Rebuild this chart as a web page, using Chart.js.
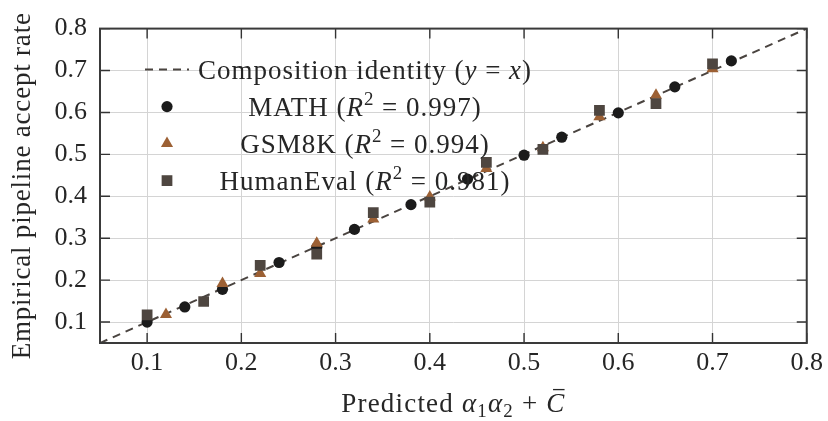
<!DOCTYPE html>
<html>
<head>
<meta charset="utf-8">
<title>Composition identity</title>
<script src="https://cdn.jsdelivr.net/npm/chart.js@4.4.1/dist/chart.umd.min.js"></script>
<style>
  html, body { margin: 0; padding: 0; background: #fff; }
  #wrap { width: 828px; height: 421px; }
</style>
</head>
<body>
<div id="wrap"><canvas id="chart" width="828" height="421"></canvas></div>
<script>
// values
const xTicks = [0.1, 0.2, 0.3, 0.4, 0.5, 0.6, 0.7, 0.8];
const yTicks = [0.1, 0.2, 0.3, 0.4, 0.5, 0.6, 0.7, 0.8];
const identityX = [0.05, 0.8];

const mathX = [0.10, 0.14, 0.18, 0.24, 0.28, 0.32, 0.38, 0.44, 0.50, 0.54, 0.60, 0.66, 0.72];
const mathY = [0.100, 0.136, 0.178, 0.242, 0.278, 0.321, 0.380, 0.441, 0.498, 0.541, 0.599, 0.661, 0.723];

const gsmX = [0.12, 0.18, 0.22, 0.28, 0.34, 0.40, 0.46, 0.52, 0.58, 0.64, 0.70];
const gsmY = [0.118, 0.192, 0.216, 0.288, 0.346, 0.398, 0.466, 0.516, 0.590, 0.641, 0.704];

const heX = [0.10, 0.16, 0.22, 0.28, 0.34, 0.40, 0.46, 0.52, 0.58, 0.64, 0.70];
const heY = [0.117, 0.149, 0.235, 0.262, 0.361, 0.386, 0.481, 0.512, 0.605, 0.621, 0.716];

const seriesNames = ['MATH', 'GSM8K', 'HumanEval'];
const seriesR2 = ['0.997', '0.994', '0.981'];

const SERIF = '"Liberation Serif", "DejaVu Serif", serif';
const INK = '#262626';
const COLORS = { line: '#4a4440', math: '#1b1b1b', gsm: '#9c6034', he: '#4e4640' };
const MARKERS = [
  { pointStyle: 'circle', radius: 5.6, color: COLORS.math },
  { pointStyle: 'triangle', radius: 7, color: COLORS.gsm },
  { pointStyle: 'rect', radius: 7.6, color: COLORS.he }
];

const pts = (xs, ys) => xs.map((v, i) => ({ x: v, y: ys[i] }));

// small rich-text helper: italics, sub- and superscripts
function setFont(ctx, seg, size) {
  const px = (seg.sup || seg.sub) ? size * 0.7 : size;
  ctx.font = (seg.it ? 'italic ' : '') + px + 'px ' + SERIF;
}
function drawRich(ctx, segs, x, y, size, spacing) {
  ctx.save();
  ctx.letterSpacing = spacing + 'px';
  ctx.textBaseline = 'alphabetic';
  ctx.textAlign = 'left';
  ctx.fillStyle = INK;
  let w = 0;
  segs.forEach(s => { setFont(ctx, s, size); w += ctx.measureText(s.t).width; });
  let cx = x - w / 2;
  segs.forEach(s => {
    setFont(ctx, s, size);
    const dy = s.sup ? -size * 0.38 : (s.sub ? size * 0.2 : 0);
    const sw = ctx.measureText(s.t).width;
    ctx.fillText(s.t, cx, y + dy);
    if (s.bar) {
      ctx.strokeStyle = INK;
      ctx.lineWidth = 1.3;
      ctx.beginPath();
      ctx.moveTo(cx + sw * 0.35, y - size * 0.83);
      ctx.lineTo(cx + sw * 0.95, y - size * 0.83);
      ctx.stroke();
    }
    cx += sw;
  });
  ctx.restore();
}

const framePlugin = {
  id: 'frame',
  afterDatasetsDraw(chart) {
    const { ctx, chartArea: a, scales: { x, y } } = chart;
    ctx.save();
    ctx.strokeStyle = '#333';
    ctx.lineWidth = 1.4;
    ctx.beginPath();
    xTicks.forEach(v => {
      const px = x.getPixelForValue(v);
      ctx.moveTo(px, a.bottom); ctx.lineTo(px, a.bottom - 10);
      ctx.moveTo(px, a.top); ctx.lineTo(px, a.top + 10);
    });
    yTicks.forEach(v => {
      const py = y.getPixelForValue(v);
      ctx.moveTo(a.left, py); ctx.lineTo(a.left + 10, py);
      ctx.moveTo(a.right, py); ctx.lineTo(a.right - 10, py);
    });
    ctx.stroke();
    ctx.strokeStyle = '#3a3a3a';
    ctx.lineWidth = 2;
    ctx.strokeRect(a.left, a.top, a.width, a.height);
    ctx.restore();
  }
};

const textPlugin = {
  id: 'texts',
  afterDraw(chart) {
    const { ctx, chartArea: a } = chart;

    // legend (no frame)
    const tx = a.left + 265, mx = a.left + 67;
    const row = i => a.top + 41 + i * 37;
    ctx.save();
    ctx.strokeStyle = COLORS.line;
    ctx.lineWidth = 2;
    ctx.setLineDash([8, 6]);
    ctx.beginPath();
    ctx.moveTo(a.left + 45, row(0));
    ctx.lineTo(a.left + 89, row(0));
    ctx.stroke();
    ctx.restore();
    drawRich(ctx, [
      { t: 'Composition identity (' }, { t: 'y', it: true }, { t: ' = ' }, { t: 'x', it: true }, { t: ')' }
    ], tx, row(0) + 9, 27, 1.0);

    seriesNames.forEach((name, i) => {
      const m = MARKERS[i];
      ctx.save();
      ctx.fillStyle = m.color;
      Chart.helpers.drawPoint(ctx, { pointStyle: m.pointStyle, radius: m.radius, rotation: 0, borderWidth: 0 }, mx, row(i + 1));
      ctx.restore();
      drawRich(ctx, [
        { t: name + ' (' }, { t: 'R', it: true }, { t: '2', sup: true }, { t: ' = ' + seriesR2[i] + ')' }
      ], tx, row(i + 1) + 9, 27, 1.0);
    });

    // axis titles
    drawRich(ctx, [
      { t: 'Predicted ' }, { t: 'α', it: true }, { t: '1', sub: true }, { t: 'α', it: true }, { t: '2', sub: true },
      { t: ' + ' }, { t: 'C', it: true, bar: true }
    ], (a.left + a.right) / 2, 412, 27, 1.2);

    ctx.save();
    ctx.translate(30, (a.top + a.bottom) / 2);
    ctx.rotate(-Math.PI / 2);
    drawRich(ctx, [{ t: 'Empirical pipeline accept rate' }], 0, 0, 27, 0.8);
    ctx.restore();
  }
};

const tickFont = { family: SERIF, size: 26, lineHeight: 1.2 };

new Chart(document.getElementById('chart'), {
  type: 'scatter',
  data: {
    datasets: [
      {
        label: seriesNames[2], data: pts(heX, heY), pointStyle: 'rect', pointRadius: MARKERS[2].radius,
        pointBackgroundColor: COLORS.he, pointBorderWidth: 0, order: 1
      },
      {
        label: seriesNames[1], data: pts(gsmX, gsmY), pointStyle: 'triangle', pointRadius: MARKERS[1].radius,
        pointBackgroundColor: COLORS.gsm, pointBorderWidth: 0, order: 2
      },
      {
        label: seriesNames[0], data: pts(mathX, mathY), pointStyle: 'circle', pointRadius: MARKERS[0].radius,
        pointBackgroundColor: COLORS.math, pointBorderWidth: 0, order: 3
      },
      {
        type: 'line', label: 'Composition identity', data: identityX.map(v => ({ x: v, y: v })),
        borderColor: COLORS.line, borderWidth: 2, borderDash: [8, 6], pointRadius: 0, fill: false, order: 4
      }
    ]
  },
  options: {
    responsive: false,
    animation: false,
    events: [],
    layout: { padding: { top: 10, right: 19, bottom: 0, left: 0 } },
    plugins: { legend: { display: false }, tooltip: { enabled: false } },
    scales: {
      x: {
        type: 'linear', min: 0.05, max: 0.8,
        afterBuildTicks: s => { s.ticks = xTicks.map(v => ({ value: v })); },
        afterFit: s => { s.height = 78; },
        grid: { color: '#d4d4d4', lineWidth: 1, drawTicks: false },
        border: { display: false },
        ticks: { font: tickFont, color: INK, padding: 5, maxRotation: 0, autoSkip: false, callback: v => v.toFixed(1) }
      },
      y: {
        type: 'linear', min: 0.05, max: 0.8,
        afterBuildTicks: s => { s.ticks = yTicks.map(v => ({ value: v })); },
        afterFit: s => { s.width = 100; },
        grid: { color: '#d4d4d4', lineWidth: 1, drawTicks: false },
        border: { display: false },
        ticks: { font: tickFont, color: INK, padding: 13, autoSkip: false, callback: v => v.toFixed(1) }
      }
    }
  },
  plugins: [framePlugin, textPlugin]
});
</script>
</body>
</html>
